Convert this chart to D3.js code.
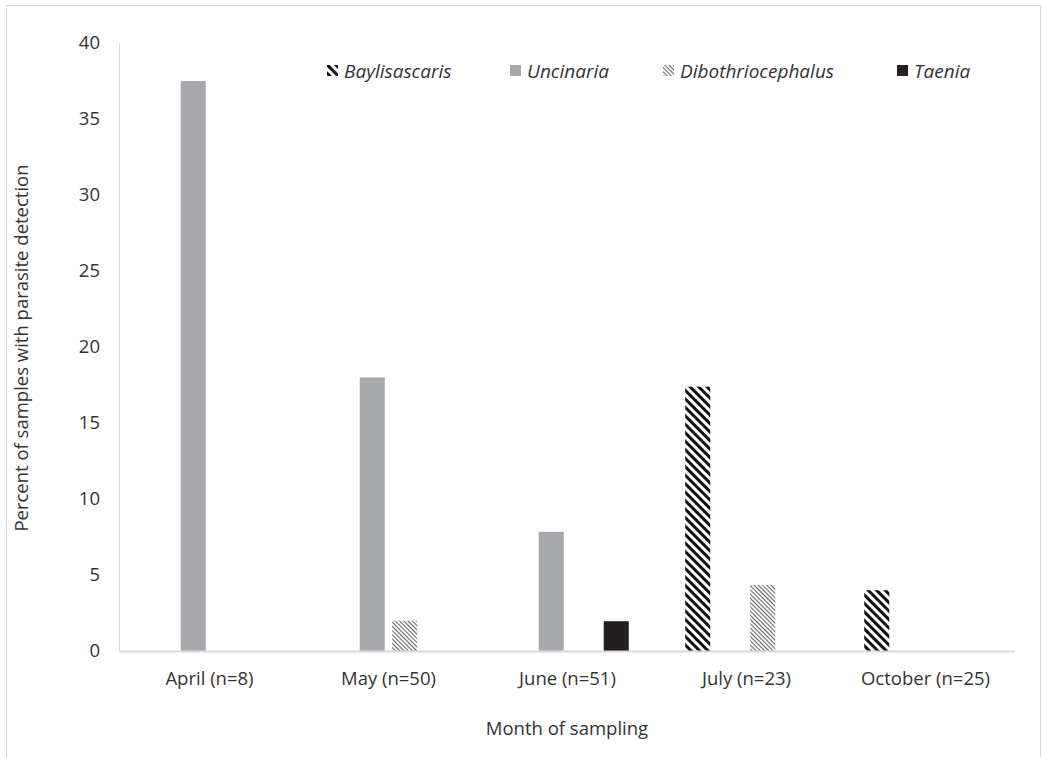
<!DOCTYPE html>
<html lang="en">
<head>
    <meta charset="UTF-8">
    <title>Parasite detection by month</title>
    <script src="https://d3js.org/d3.v7.min.js"></script>
    <style>
        html, body { margin: 0; padding: 0; background: white; }
        svg { display: block; font-family: "Open Sans", "Liberation Sans", sans-serif; }
    </style>
</head>
<body>
<svg width="1042" height="757"></svg>
<script>
    // données
    const months = ["April (n=8)", "May (n=50)", "June (n=51)", "July (n=23)", "October (n=25)"];
    const parasites = ["Baylisascaris", "Uncinaria", "Dibothriocephalus", "Taenia"];
    const baylisascaris = [0, 0, 0, 17.39, 4];
    const uncinaria = [37.5, 18, 7.84, 0, 0];
    const dibothriocephalus = [0, 2, 0, 4.35, 0];
    const taenia = [0, 0, 1.96, 0, 0];
    const yTicks = [0, 5, 10, 15, 20, 25, 30, 35, 40];

    const series = [baylisascaris, uncinaria, dibothriocephalus, taenia];
    const fills = ["url(#pBay)", "#a7a8ab", "url(#pDibo)", "#231f20"];

    const svg = d3.select("svg");
    const defs = svg.append("defs");

    // hachures larges
    const pBay = defs.append("pattern").attr("id", "pBay")
        .attr("patternUnits", "userSpaceOnUse").attr("width", 6).attr("height", 6)
        .attr("patternTransform", "rotate(45)");
    pBay.append("rect").attr("width", 6).attr("height", 6).attr("fill", "white");
    pBay.append("rect").attr("width", 6).attr("height", 3).attr("fill", "#111");

    // hachures fines
    const pDibo = defs.append("pattern").attr("id", "pDibo")
        .attr("patternUnits", "userSpaceOnUse").attr("width", 3).attr("height", 3)
        .attr("patternTransform", "rotate(45)");
    pDibo.append("rect").attr("width", 3).attr("height", 3).attr("fill", "white");
    pDibo.append("rect").attr("width", 3).attr("height", 1.1).attr("fill", "#666");

    // cadre
    svg.append("rect").attr("x", 6.5).attr("y", 5.5).attr("width", 1034).attr("height", 770)
        .attr("fill", "none").attr("stroke", "#d9d9d9");

    const x0 = d3.scaleBand().domain(months).range([120, 1015]);
    const x1 = d3.scaleBand().domain(parasites).range([-65, 65]).paddingInner(0.23).paddingOuter(0.115);
    const y = d3.scaleLinear().domain([0, 40]).range([651, 43]);

    // barres
    const rows = [];
    series.forEach((vals, s) => vals.forEach((v, i) => {
        if (v > 0) rows.push({ month: months[i], parasite: parasites[s], value: v, fill: fills[s] });
    }));
    svg.append("g").selectAll("rect")
        .data(rows)
        .join("rect")
        .attr("x", d => x0(d.month) + x0.bandwidth() / 2 + x1(d.parasite))
        .attr("y", d => y(d.value))
        .attr("width", x1.bandwidth())
        .attr("height", d => y(0) - y(d.value))
        .attr("fill", d => d.fill);

    // axes
    svg.append("line").attr("x1", 119.5).attr("x2", 119.5).attr("y1", 43).attr("y2", 651)
        .attr("stroke", "#d9d9d9");
    svg.append("line").attr("x1", 119).attr("x2", 1015).attr("y1", 651.5).attr("y2", 651.5)
        .attr("stroke", "#d9d9d9").attr("stroke-width", 2);

    svg.append("g").selectAll("text")
        .data(yTicks)
        .join("text")
        .attr("x", 100).attr("y", d => y(d))
        .attr("dy", "0.35em")
        .attr("text-anchor", "end")
        .attr("font-size", 18.5).attr("fill", "#333")
        .text(d => d);

    svg.append("g").selectAll("text")
        .data(months)
        .join("text")
        .attr("x", d => x0(d) + x0.bandwidth() / 2)
        .attr("y", 685)
        .attr("text-anchor", "middle")
        .attr("font-size", 18.5).attr("fill", "#333")
        .text(d => d);

    svg.append("text").attr("x", 567).attr("y", 735).attr("text-anchor", "middle")
        .attr("font-size", 18.5).attr("fill", "#333").text("Month of sampling");
    svg.append("text").attr("transform", "translate(28,348) rotate(-90)").attr("text-anchor", "middle")
        .attr("font-size", 18.5).attr("fill", "#333").text("Percent of samples with parasite detection");

    // légende
    const legendX = [327, 510, 663, 897];
    const leg = svg.append("g").selectAll("g")
        .data(parasites)
        .join("g")
        .attr("transform", (d, i) => `translate(${legendX[i]},71)`);
    leg.append("rect").attr("x", 0).attr("y", -6).attr("width", 11).attr("height", 11)
        .attr("fill", (d, i) => fills[i]);
    leg.append("text").attr("x", 17).attr("dy", "0.35em")
        .attr("font-size", 19).attr("font-style", "italic").attr("fill", "#333")
        .text(d => d);
</script>
</body>
</html>
